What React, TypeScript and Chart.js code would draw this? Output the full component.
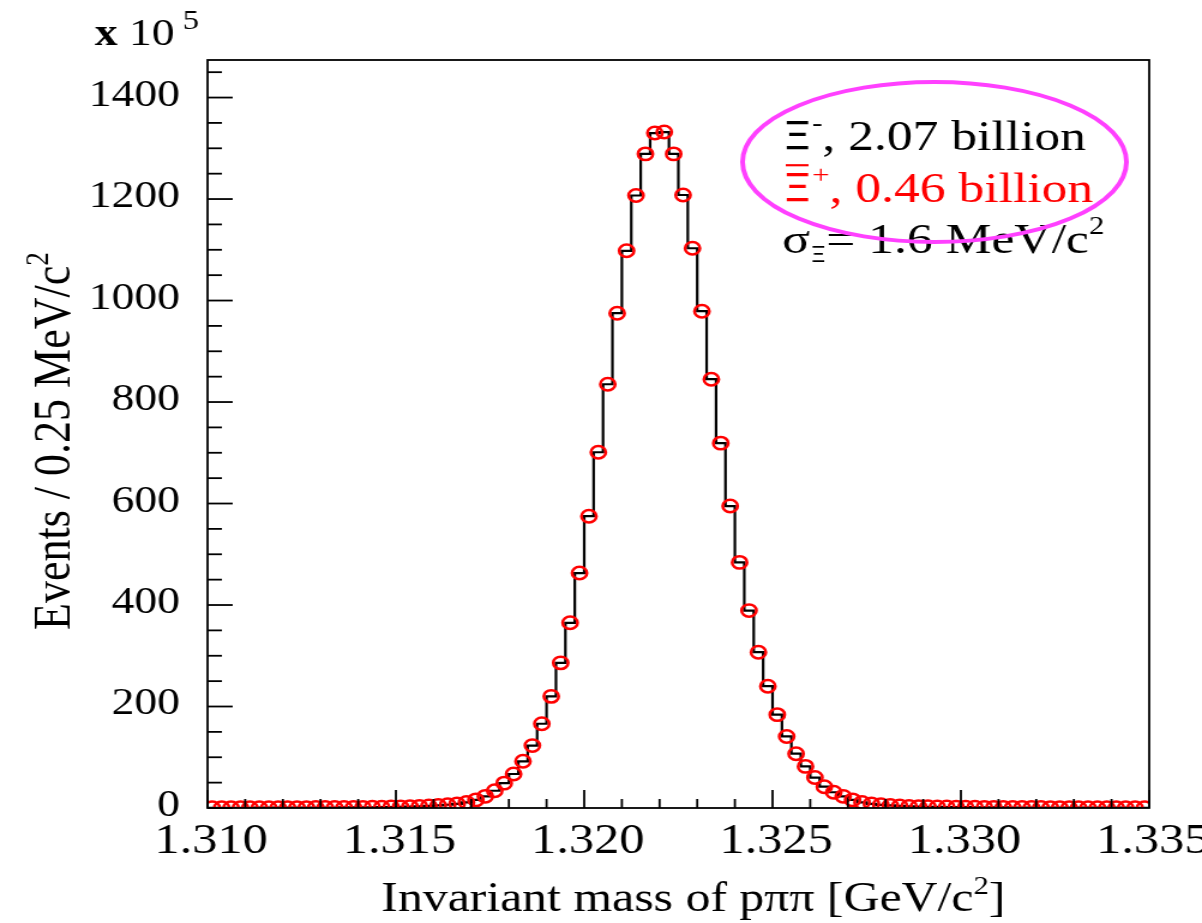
import { useEffect, useRef } from 'react';
import { Chart, registerables } from 'chart.js';

Chart.register(...registerables);

// ---------------- data ----------------
const X_MIN = 1.31;
const X_MAX = 1.335;
const BIN_WIDTH = 0.00025;
const Y_MIN = 0;
const Y_MAX = 1474;

// Events per 0.25 MeV/c^2 bin, in units of 10^5 (100 bins, 1.310 - 1.335 GeV/c^2)
const counts: number[] = [
  0.4, 0.4, 0.45, 0.5, 0.5, 0.55, 0.6, 0.65, 0.7, 0.75,
  0.8, 0.85, 0.9, 1.0, 1.05, 1.15, 1.25, 1.4, 1.6, 1.85,
  2.2, 2.7, 3.3, 4.1, 5.1, 6.4, 8.2, 11, 16, 23,
  34, 49, 67, 92, 123, 166, 220, 286, 365, 463,
  575, 701, 835, 975, 1098, 1207, 1289, 1330, 1332, 1289,
  1208, 1103, 979, 845, 719, 595, 484, 389, 307, 240,
  184, 141, 107, 82, 60, 42, 31, 23, 16, 11,
  8.2, 6.3, 5.0, 4.0, 3.3, 2.8, 2.4, 2.1, 1.9, 1.7,
  1.55, 1.4, 1.3, 1.2, 1.1, 1.0, 0.95, 0.9, 0.85, 0.8,
  0.75, 0.7, 0.68, 0.65, 0.62, 0.6, 0.58, 0.56, 0.54, 0.52,
];

const xMajorTicks: number[] = [1.31, 1.315, 1.32, 1.325, 1.33, 1.335];
const xTickLabels: string[] = ['1.310', '1.315', '1.320', '1.325', '1.330', '1.335'];
const X_MINOR_PER_MAJOR = 5;
const yMajorTicks: number[] = [0, 200, 400, 600, 800, 1000, 1200, 1400];
const yTickLabels: string[] = ['0', '200', '400', '600', '800', '1000', '1200', '1400'];
const Y_MINOR_STEP = 50;

const xTitle = 'Invariant mass of pππ [GeV/c';
const yTitle = 'Events / 0.25 MeV/c';
const legendLine1 = ', 2.07 billion';
const legendLine2 = ', 0.46 billion';
const legendLine3 = '= 1.6 MeV/c';

// ---------------- style ----------------
const CANVAS_W = 1002; // drawn narrower, then stretched horizontally like the reference
const CANVAS_H = 923;
const SERIF = '"Liberation Serif", "Times New Roman", serif';
const SANS = '"DejaVu Sans", "Noto Sans", sans-serif';

type Run = { t: string; s?: number; dy?: number; bold?: boolean; over?: boolean; fam?: string };

function runFont(size: number, r: Run) {
  return `${r.bold ? 'bold ' : ''}${size * (r.s ?? 1)}px ${r.fam ?? SERIF}`;
}
function runsWidth(ctx: CanvasRenderingContext2D, runs: Run[], size: number) {
  let w = 0;
  for (const r of runs) {
    ctx.font = runFont(size, r);
    w += ctx.measureText(r.t).width;
  }
  return w;
}
function drawRuns(
  ctx: CanvasRenderingContext2D,
  x: number,
  y: number,
  runs: Run[],
  size: number,
  color: string,
  align: 'left' | 'center' | 'right' = 'left'
) {
  const total = runsWidth(ctx, runs, size);
  let cx = align === 'left' ? x : align === 'center' ? x - total / 2 : x - total;
  ctx.fillStyle = color;
  ctx.strokeStyle = color;
  ctx.textAlign = 'left';
  ctx.textBaseline = 'alphabetic';
  for (const r of runs) {
    ctx.font = runFont(size, r);
    const w = ctx.measureText(r.t).width;
    const yy = y + (r.dy ?? 0) * size;
    ctx.fillText(r.t, cx, yy);
    if (r.over) {
      ctx.fillRect(cx + w * 0.12, yy - size * 0.88, w * 0.76, size * 0.05);
    }
    cx += w;
  }
}

const decorPlugin = {
  id: 'decor',
  afterDatasetsDraw(chart: any) {
    const ctx: CanvasRenderingContext2D = chart.ctx;
    const a = chart.chartArea;
    const xs = chart.scales.x;
    const ys = chart.scales.y;
    ctx.save();
    ctx.strokeStyle = '#000';
    ctx.lineWidth = 1.8;
    ctx.strokeRect(a.left, a.top, a.right - a.left, a.bottom - a.top);

    // y ticks (inside, left side)
    for (let v = Y_MIN; v <= Y_MAX; v += Y_MINOR_STEP) {
      const py = ys.getPixelForValue(v);
      const major = yMajorTicks.includes(v);
      const len = major ? 21 : 12;
      ctx.beginPath();
      ctx.moveTo(a.left, py);
      ctx.lineTo(a.left + len, py);
      ctx.stroke();
    }
    // x ticks (inside, bottom)
    const minorStep = (xMajorTicks[1] - xMajorTicks[0]) / X_MINOR_PER_MAJOR;
    const nMinor = Math.round((X_MAX - X_MIN) / minorStep);
    for (let k = 0; k <= nMinor; k++) {
      const v = X_MIN + k * minorStep;
      const px = xs.getPixelForValue(v);
      const len = k % X_MINOR_PER_MAJOR === 0 ? 18 : 9;
      ctx.beginPath();
      ctx.moveTo(px, a.bottom);
      ctx.lineTo(px, a.bottom - len);
      ctx.stroke();
    }

    // tick labels
    ctx.fillStyle = '#000';
    ctx.font = `38px ${SERIF}`;
    ctx.textAlign = 'right';
    ctx.textBaseline = 'middle';
    yMajorTicks.forEach((v, i) => {
      ctx.fillText(yTickLabels[i], a.left - 23, ys.getPixelForValue(v) - 2);
    });
    ctx.font = `42px ${SERIF}`;
    ctx.textAlign = 'center';
    ctx.textBaseline = 'alphabetic';
    xMajorTicks.forEach((v, i) => {
      ctx.fillText(xTickLabels[i], xs.getPixelForValue(v) + 3, a.bottom + 45);
    });

    // multiplier
    drawRuns(ctx, 79, 45, [{ t: 'x', bold: true }, { t: ' 10' }, { t: ' 5', s: 0.72, dy: -0.42 }], 38, '#000');

    // axis titles
    drawRuns(ctx, 578, 911, [{ t: xTitle }, { t: '2', s: 0.62, dy: -0.42 }, { t: ']' }], 41.5, '#000', 'center');
    ctx.save();
    ctx.translate(58, 441);
    ctx.rotate(-Math.PI / 2);
    drawRuns(ctx, 0, 0, [{ t: yTitle }, { t: '2', s: 0.62, dy: -0.42 }], 44, '#000', 'center');
    ctx.restore();

    // annotation
    drawRuns(ctx, 652, 150, [{ t: 'Ξ', fam: SANS, s: 0.92 }, { t: '-', s: 0.6, dy: -0.45 }, { t: legendLine1 }], 43, '#000');
    drawRuns(ctx, 652, 202, [{ t: 'Ξ', fam: SANS, s: 0.92, over: true }, { t: '+', s: 0.6, dy: -0.45 }, { t: legendLine2 }], 43, '#ff0000');
    drawRuns(ctx, 652, 253, [{ t: 'σ' }, { t: 'Ξ', fam: SANS, s: 0.5, dy: 0.22 }, { t: legendLine3 }, { t: '2', s: 0.6, dy: -0.45 }], 43, '#000');

    ctx.strokeStyle = '#ff40ff';
    ctx.lineWidth = 4;
    ctx.beginPath();
    ctx.ellipse(779, 162, 160, 80, 0, 0, Math.PI * 2);
    ctx.stroke();
    ctx.restore();
  },
};

export default function App() {
  const ref = useRef<HTMLCanvasElement | null>(null);
  useEffect(() => {
    const prevMargin = document.body.style.margin;
    document.body.style.margin = '0';
    const canvas = ref.current;
    if (!canvas) return;
    const edges = counts.map((c, i) => ({ x: X_MIN + i * BIN_WIDTH, y: c }));
    edges.push({ x: X_MIN + counts.length * BIN_WIDTH, y: counts[counts.length - 1] });
    const centers = counts.map((c, i) => ({ x: X_MIN + (i + 0.5) * BIN_WIDTH, y: c }));
    const chart = new Chart(canvas, {
      type: 'scatter',
      data: {
        datasets: [
          {
            type: 'line',
            label: 'histogram',
            data: edges,
            stepped: true,
            borderColor: '#000',
            borderWidth: 2.2,
            pointRadius: 0,
            fill: false,
            order: 2,
          } as any,
          {
            type: 'scatter',
            label: 'points',
            data: centers,
            pointStyle: 'circle',
            pointRadius: 6.2,
            borderColor: '#ff0000',
            borderWidth: 2.5,
            backgroundColor: 'rgba(0,0,0,0)',
            order: 1,
          } as any,
        ],
      },
      options: {
        responsive: false,
        animation: false,
        devicePixelRatio: 1,
        events: [],
        layout: { padding: { left: 173, right: 44, top: 60, bottom: 115 } },
        plugins: { legend: { display: false }, tooltip: { enabled: false } },
        scales: {
          x: { type: 'linear', display: false, min: X_MIN, max: X_MAX },
          y: { type: 'linear', display: false, min: Y_MIN, max: Y_MAX },
        },
      },
      plugins: [decorPlugin],
    });
    return () => {
      chart.destroy();
      document.body.style.margin = prevMargin;
    };
  }, []);
  return (
    <canvas
      ref={ref}
      width={CANVAS_W}
      height={CANVAS_H}
      style={{ width: '1202px', height: '923px', display: 'block' }}
    />
  );
}
